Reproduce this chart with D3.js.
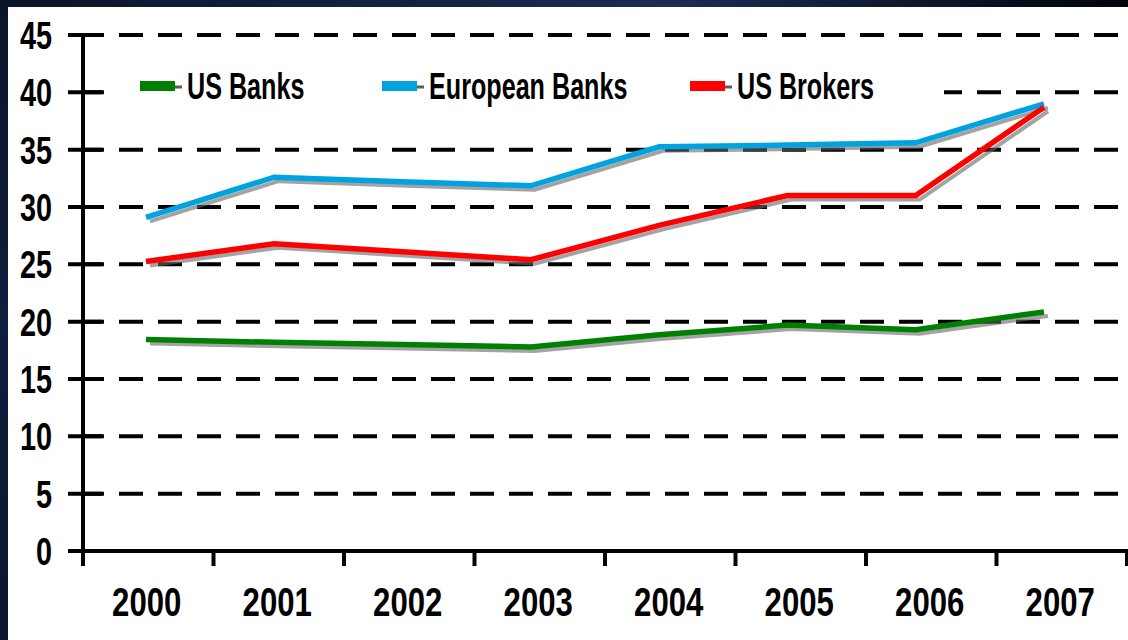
<!DOCTYPE html>
<html>
<head>
<meta charset="utf-8">
<script src="https://cdn.jsdelivr.net/npm/d3@7"></script>
<style>
  html, body { margin: 0; padding: 0; background: #ffffff; }
  svg { display: block; }
  text { font-family: "Liberation Sans", Arial, sans-serif; fill: #000; font-weight: bold; }
</style>
</head>
<body>
<svg id="chart" width="1128" height="640"></svg>
<script>
// ---- data ----
const years = ["2000", "2001", "2002", "2003", "2004", "2005", "2006", "2007"];
const seriesNames = ["US Banks", "European Banks", "US Brokers"];
const seriesColors = ["#008000", "#00a3e0", "#ff0000"];
const usBanks = [18.45, 18.2, 18.0, 17.8, 18.85, 19.7, 19.3, 20.85];
const europeanBanks = [29.1, 32.6, 32.2, 31.85, 35.25, 35.4, 35.6, 39.0];
const usBrokers = [25.25, 26.8, 26.1, 25.4, 28.4, 31.0, 31.0, 38.7];
const yTicks = [0, 5, 10, 15, 20, 25, 30, 35, 40, 45];

const seriesValues = [usBanks, europeanBanks, usBrokers];

// ---- layout ----
const W = 1128, H = 640;
const svg = d3.select("#chart");

// dark border gradient
const defs = svg.append("defs");
const gTop = defs.append("linearGradient").attr("id", "topGrad")
  .attr("x1", "0%").attr("x2", "100%").attr("y1", "0%").attr("y2", "0%");
gTop.append("stop").attr("offset", "0%").attr("stop-color", "#0a1429");
gTop.append("stop").attr("offset", "60%").attr("stop-color", "#1a2c52");
gTop.append("stop").attr("offset", "100%").attr("stop-color", "#02040a");
const gLeft = defs.append("linearGradient").attr("id", "leftGrad")
  .attr("x1", "0%").attr("x2", "0%").attr("y1", "0%").attr("y2", "100%");
gLeft.append("stop").attr("offset", "0%").attr("stop-color", "#0a1429");
gLeft.append("stop").attr("offset", "50%").attr("stop-color", "#0f1f3e");
gLeft.append("stop").attr("offset", "100%").attr("stop-color", "#0a1530");

svg.append("rect").attr("x", 0).attr("y", 0).attr("width", W).attr("height", 8).attr("fill", "url(#topGrad)");
svg.append("rect").attr("x", 0).attr("y", 0).attr("width", 8).attr("height", H).attr("fill", "url(#leftGrad)");
svg.append("rect").attr("x", 8).attr("y", 7).attr("width", W - 8).attr("height", H - 7).attr("fill", "#ffffff");

const axisX = 83, axisY = 551, topY = 35, rightX = 1127;

const y = d3.scaleLinear().domain([0, 45]).range([axisY, topY]);
const xBand = d3.scaleBand().domain(years).range([axisX, rightX]).padding(0);
const xPt = d3.scalePoint().domain(years).range([146, 1044]);

// grid lines (dashed)
svg.append("g").selectAll("line.grid")
  .data(yTicks.filter(d => d > 0))
  .join("line")
  .attr("x1", axisX).attr("x2", W)
  .attr("y1", d => y(d)).attr("y2", d => y(d))
  .attr("stroke", "#000").attr("stroke-width", 4)
  .attr("stroke-dasharray", "24 15").attr("stroke-dashoffset", 3);

// legend background (hides the grid behind the legend)
svg.append("rect").attr("x", 105).attr("y", 60).attr("width", 839).attr("height", 52)
  .attr("fill", "#ffffff");

// y tick marks crossing axis
svg.append("g").selectAll("line.ytick")
  .data(yTicks)
  .join("line")
  .attr("x1", 68).attr("x2", 102)
  .attr("y1", d => y(d)).attr("y2", d => y(d))
  .attr("stroke", "#000").attr("stroke-width", 4);

// y labels
svg.append("g").selectAll("text.ylab")
  .data(yTicks)
  .join("text")
  .attr("transform", d => `translate(52,${y(d) + 14}) scale(0.76,1)`)
  .attr("text-anchor", "end")
  .attr("font-size", 38)
  .text(d => d);

// axes lines
svg.append("line").attr("x1", axisX).attr("x2", axisX).attr("y1", topY).attr("y2", 566)
  .attr("stroke", "#000").attr("stroke-width", 4);
svg.append("line").attr("x1", 68).attr("x2", W).attr("y1", axisY).attr("y2", axisY)
  .attr("stroke", "#000").attr("stroke-width", 4);

// x ticks at category boundaries
const boundaries = years.map(d => xBand(d)).concat([xBand(years[years.length - 1]) + xBand.bandwidth()]);
svg.append("g").selectAll("line.xtick")
  .data(boundaries)
  .join("line")
  .attr("x1", d => d).attr("x2", d => d)
  .attr("y1", axisY).attr("y2", 566)
  .attr("stroke", "#000").attr("stroke-width", 4);

// x labels
svg.append("g").selectAll("text.xlab")
  .data(years)
  .join("text")
  .attr("transform", d => `translate(${xBand(d) + xBand.bandwidth() / 2 - 1.5},616) scale(0.76,1)`)
  .attr("text-anchor", "middle")
  .attr("font-size", 41)
  .text(d => d);

// lines
const line = d3.line()
  .x((d, i) => xPt(years[i]))
  .y(d => y(d));

const shadowG = svg.append("g").attr("transform", "translate(4,4)");
seriesValues.forEach((vals, i) => {
  shadowG.append("path")
    .attr("d", line(vals))
    .attr("fill", "none")
    .attr("stroke", "#666")
    .attr("stroke-opacity", 0.6)
    .attr("stroke-width", 4);
});
seriesValues.forEach((vals, i) => {
  svg.append("path")
    .attr("d", line(vals))
    .attr("fill", "none")
    .attr("stroke", seriesColors[i])
    .attr("stroke-width", 5.5)
    .attr("stroke-linejoin", "miter");
});

// legend
const legendX = [140, 382, 690];
const legendY = 86;
seriesNames.forEach((name, i) => {
  const g = svg.append("g").attr("transform", `translate(${legendX[i]},${legendY})`);
  g.append("line").attr("x1", 34).attr("x2", 42).attr("y1", 1).attr("y2", 1)
    .attr("stroke", "#333").attr("stroke-width", 3).attr("stroke-opacity", 0.8);
  g.append("rect").attr("x", 0).attr("y", -5).attr("width", 35).attr("height", 10)
    .attr("fill", seriesColors[i]);
  g.append("text")
    .attr("transform", `translate(47,13) scale(0.68,1)`)
    .attr("font-size", 37)
    .text(name);
});
</script>
</body>
</html>
